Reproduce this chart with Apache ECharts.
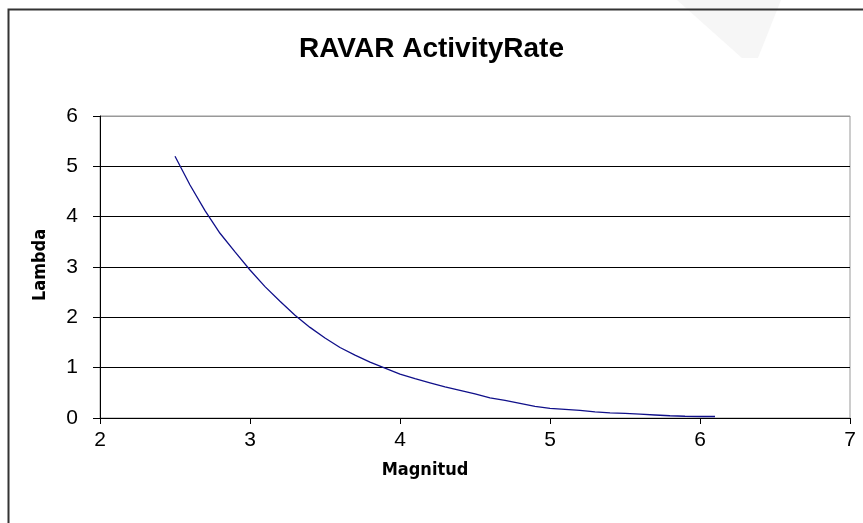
<!DOCTYPE html>
<html>
<head>
<meta charset="utf-8">
<script src="https://cdn.jsdelivr.net/npm/echarts@6/dist/echarts.min.js"></script>
<style>html,body{margin:0;padding:0;background:#fff;}#c{width:863px;height:523px;}</style>
</head>
<body>
<div id="c"></div>
<script>
const magnitudes = [2.5,2.6,2.7,2.8,2.9,3.0,3.1,3.2,3.3,3.4,3.5,3.6,3.7,3.8,3.9,4.0,4.1,4.2,4.3,4.4,4.5,4.6,4.7,4.8,4.9,5.0,5.1,5.2,5.3,5.4,5.5,5.6,5.7,5.8,5.9,6.0,6.1];
const lambdas = [5.20,4.63,4.12,3.67,3.30,2.94,2.61,2.32,2.04,1.80,1.59,1.40,1.25,1.11,0.99,0.87,0.78,0.70,0.62,0.55,0.48,0.40,0.35,0.29,0.23,0.19,0.17,0.15,0.12,0.10,0.09,0.075,0.06,0.045,0.035,0.03,0.03];
const xTicks = [2,3,4,5,6,7];
const yTicks = [0,1,2,3,4,5,6];
const titleText = 'RAVAR ActivityRate';
const xName = 'Magnitud';
const yName = 'Lambda';

const chart = echarts.init(document.getElementById('c'), null, {renderer:'canvas'});
const font = 'Liberation Sans, Arial, sans-serif';
const nameFont = 'DejaVu Sans Condensed, Liberation Sans, sans-serif';
chart.setOption({
  animation:false,
  backgroundColor:'#fff',
  title:{text:titleText,left:'center',top:30,textStyle:{fontFamily:font,fontSize:28,fontWeight:'bold',color:'#000'}},
  grid:{left:100,right:13,top:116,bottom:105,show:true,borderColor:'#999',borderWidth:1,backgroundColor:'transparent'},
  xAxis:{type:'value',min:xTicks[0],max:xTicks[xTicks.length-1],interval:1,
    axisLine:{lineStyle:{color:'#000',width:1}},
    axisTick:{show:true,inside:false,length:6,lineStyle:{color:'#000'}},
    axisLabel:{margin:12,fontFamily:font,fontSize:21,color:'#000'},
    splitLine:{show:false}},
  yAxis:{type:'value',min:yTicks[0],max:yTicks[yTicks.length-1],interval:1,
    axisLine:{show:true,lineStyle:{color:'#000',width:1}},
    axisTick:{show:true,inside:false,length:7,lineStyle:{color:'#000'}},
    axisLabel:{margin:22,fontFamily:font,fontSize:21,color:'#000'},
    splitLine:{show:true,lineStyle:{color:['#000','#000','#000','#000','#000','#000','#999'],width:1}}},
  series:[{type:'line',data:magnitudes.map((m,i)=>[m,lambdas[i]]),showSymbol:false,smooth:false,
    lineStyle:{color:'#10108a',width:1.3}}],
  graphic:[
    {type:'polygon',z:-1,shape:{points:[[677,0],[781,0],[758,58],[742,58]]},style:{fill:'#f6f6f6'}},
    {type:'rect',shape:{x:8.5,y:9.5,width:900,height:600},style:{fill:null,stroke:'#333',lineWidth:2}},
    {type:'text',x:425,y:470,style:{text:xName,font:'bold 18px '+nameFont,fill:'#000',textAlign:'center',textVerticalAlign:'middle'}},
    {type:'text',x:40,y:265,rotation:Math.PI/2,style:{text:yName,font:'bold 18px '+nameFont,fill:'#000',textAlign:'center',textVerticalAlign:'middle'}}
  ]
});
</script>
</body>
</html>
